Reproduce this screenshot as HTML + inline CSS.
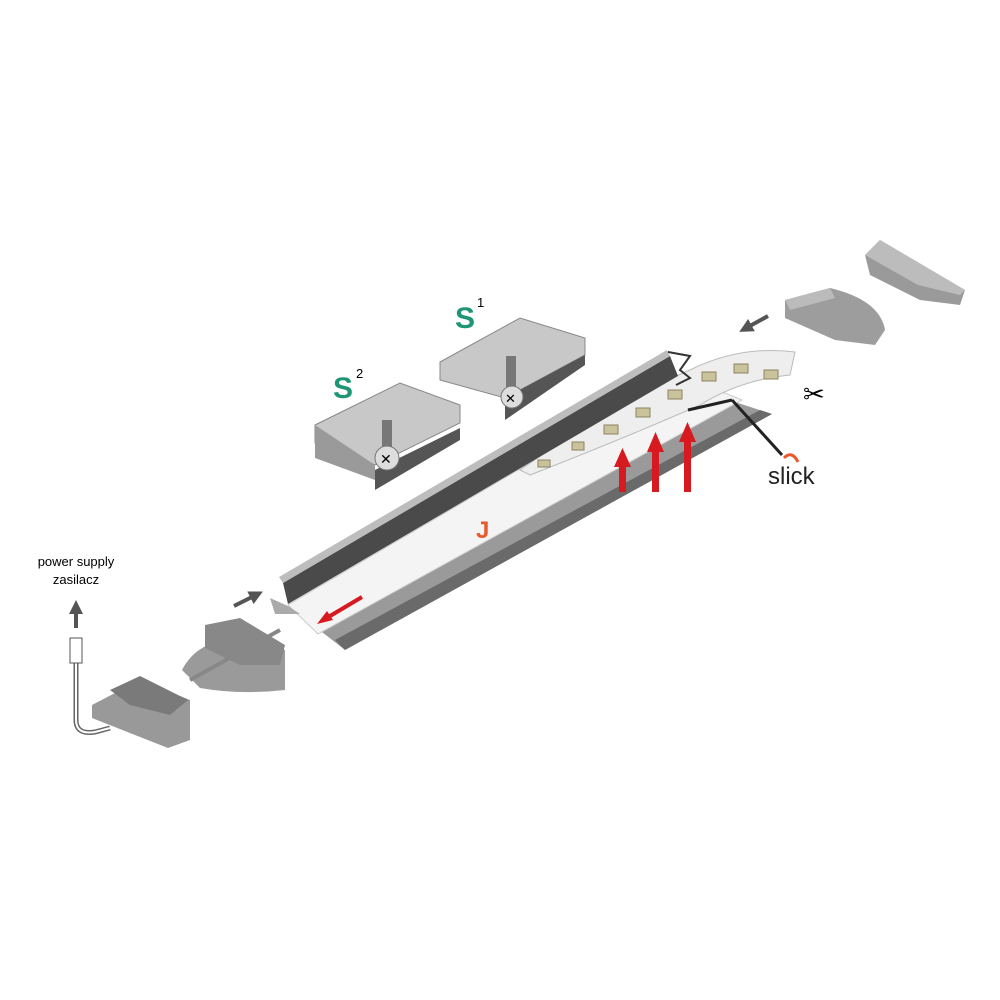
<!DOCTYPE html>
<html><head><style>
body{margin:0;background:#fff}
svg{display:block}
text{font-family:"Liberation Sans",sans-serif}
</style></head><body>
<svg width="1000" height="1000" viewBox="0 0 1000 1000">
<defs>
<marker id="ah" markerUnits="userSpaceOnUse" markerWidth="14" markerHeight="14" refX="4" refY="7" orient="auto"><path d="M0,0L14,7L0,14z" fill="#555"/></marker>
</defs>
<!-- bottom flange -->
<polygon points="322,632 735,402 772,414 345,650" fill="#9a9a9a"/>
<polygon points="335,640 760,410 772,414 345,650" fill="#6a6a6a"/>
<!-- white strip -->
<polygon points="288,605 680,375 742,400 318,634" fill="#f4f4f4" stroke="#ccc"/>
<!-- LED strip lifted -->
<path d="M520,470 Q620,400 690,370 Q740,345 795,352 L790,375 Q740,380 700,405 Q620,440 530,475z" fill="#eee" stroke="#bbb"/>
<g fill="#c9c29a" stroke="#8a8460">
<rect x="538" y="460" width="12" height="7"/><rect x="572" y="442" width="12" height="8"/><rect x="604" y="425" width="14" height="9"/><rect x="636" y="408" width="14" height="9"/><rect x="668" y="390" width="14" height="9"/><rect x="702" y="372" width="14" height="9"/><rect x="734" y="364" width="14" height="9"/><rect x="764" y="370" width="14" height="9"/>
</g>
<!-- top rail -->
<polygon points="283,583 670,356 678,376 288,604" fill="#4a4a4a"/>
<polygon points="279,577 667,350 670,356 283,583" fill="#bdbdbd"/>
<polygon points="270,598 288,606 300,614 275,614" fill="#aaa"/>
<path d="M668,352 L690,356 L680,370 L690,378 L676,385" fill="none" stroke="#333" stroke-width="2"/>
<path d="M688,410 L732,400" stroke="#222" stroke-width="3"/>
<path d="M732,400 L782,455" stroke="#222" stroke-width="3"/>
<!-- red arrows -->
<g fill="#d71920">
<rect x="619" y="465" width="7" height="27"/><polygon points="614,467 622.5,448 631,467"/>
<rect x="652" y="450" width="7" height="42"/><polygon points="647,452 655.5,432 664,452"/>
<rect x="684" y="440" width="7" height="52"/><polygon points="679,442 687.5,422 696,442"/>
<line x1="362" y1="597" x2="325" y2="619" stroke="#d71920" stroke-width="4"/><polygon points="317,624 327,611 333,620"/>
</g>
<text x="476" y="538" font-size="24" font-weight="bold" fill="#e8592b">J</text>
<!-- S brackets -->
<polygon points="315,425 400,383 460,405 460,423 375,465 315,443" fill="#c8c8c8" stroke="#888"/>
<polygon points="315,425 315,458 375,480 375,465" fill="#9a9a9a"/>
<polygon points="375,470 460,428 460,440 375,490" fill="#555"/>
<rect x="382" y="420" width="10" height="38" fill="#777"/>
<circle cx="387" cy="458" r="12" fill="#ddd" stroke="#777"/><text x="380" y="464" font-size="14">✕</text>
<polygon points="440,362 520,318 585,338 585,355 505,398 440,380" fill="#c8c8c8" stroke="#888"/>
<polygon points="505,398 585,355 585,365 505,420" fill="#555"/>
<rect x="506" y="356" width="10" height="40" fill="#777"/>
<circle cx="512" cy="397" r="11" fill="#ddd" stroke="#777"/><text x="505" y="403" font-size="13">✕</text>
<text x="455" y="328" font-size="30" font-weight="bold" fill="#1e9676">S</text><text x="477" y="307" font-size="13">1</text>
<text x="333" y="398" font-size="30" font-weight="bold" fill="#1e9676">S</text><text x="356" y="378" font-size="13">2</text>
<!-- right caps -->
<path d="M785,300 L830,288 Q880,300 885,330 L875,345 L835,340 L785,318z" fill="#9d9d9d"/>
<polygon points="785,300 830,288 835,298 790,310" fill="#bbb"/>
<polygon points="865,255 880,240 965,290 960,305 920,300 870,275" fill="#9a9a9a"/>
<polygon points="865,255 918,285 960,295 965,290 880,240" fill="#bcbcbc"/>
<line x1="768" y1="316" x2="748" y2="327" stroke="#555" stroke-width="4" marker-end="url(#ah)"/>
<text x="803" y="403" font-size="26">✂</text>
<text x="768" y="484" font-size="24" fill="#222">slick</text>
<path d="M784,458 Q792,450 798,462" stroke="#e8592b" stroke-width="3" fill="none"/>
<!-- left caps -->
<path d="M182,670 Q200,635 250,640 L285,650 L285,690 Q240,695 200,688z" fill="#9a9a9a"/>
<polygon points="205,625 240,618 285,645 280,665 240,665 205,648" fill="#888"/>
<polygon points="92,705 140,680 190,700 190,740 168,748 92,718" fill="#999"/>
<polygon points="110,690 140,676 188,700 170,715 130,705" fill="#7a7a7a"/>
<line x1="190" y1="680" x2="280" y2="630" stroke="#888" stroke-width="4"/>
<line x1="234" y1="606" x2="254" y2="596" stroke="#555" stroke-width="4" marker-end="url(#ah)"/>
<!-- power supply -->
<path d="M76,660 L76,720 Q76,735 95,732 L110,728" fill="none" stroke="#666" stroke-width="5"/>
<path d="M76,660 L76,720 Q76,735 95,732 L110,728" fill="none" stroke="#fff" stroke-width="2"/>
<rect x="70" y="638" width="12" height="25" fill="#fff" stroke="#555"/>
<line x1="76" y1="628" x2="76" y2="610" stroke="#555" stroke-width="4" marker-end="url(#ah)"/>
<text x="76" y="566" font-size="13" text-anchor="middle">power supply</text>
<text x="76" y="584" font-size="13" text-anchor="middle">zasilacz</text>
</svg>
</body></html>
